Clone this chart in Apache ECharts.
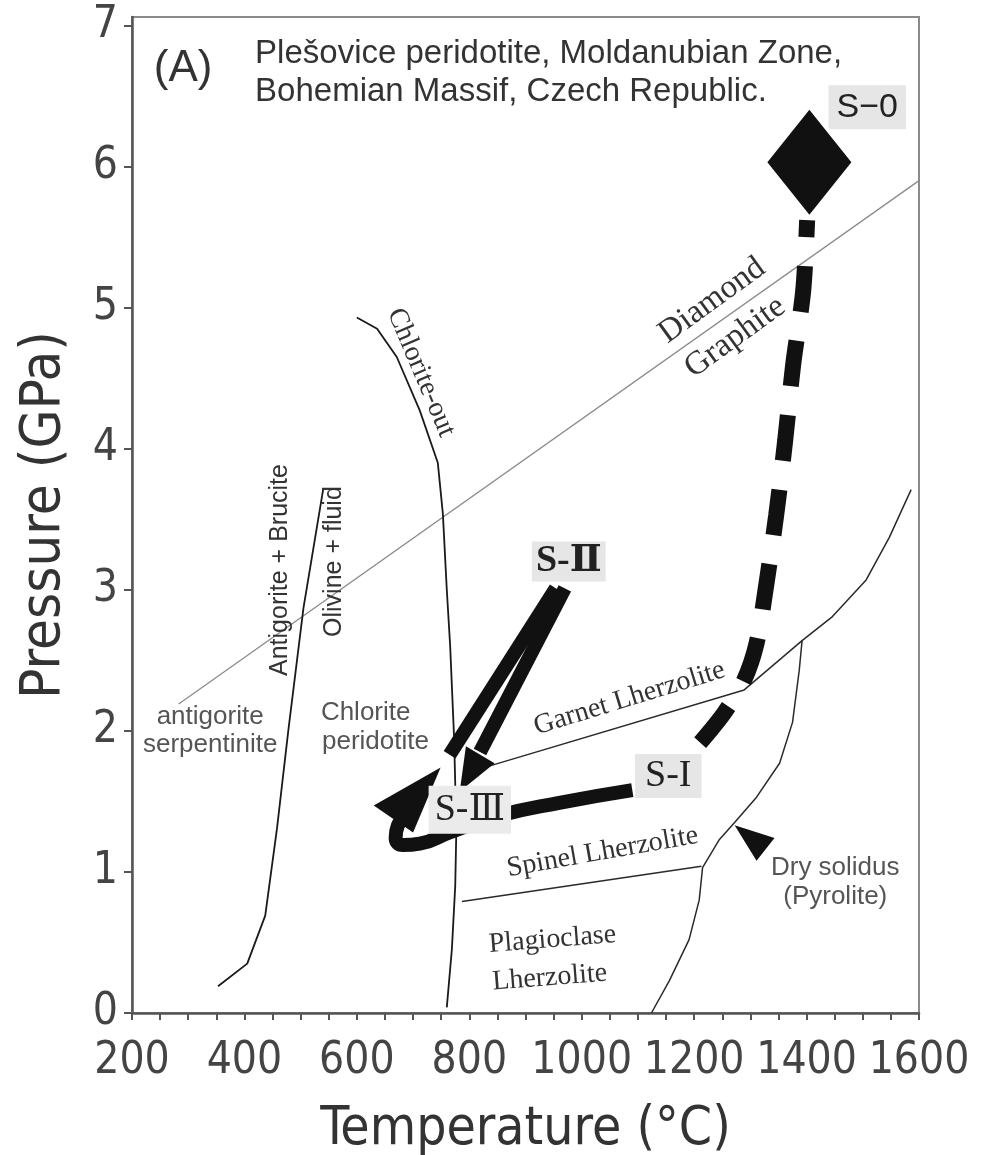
<!DOCTYPE html>
<html>
<head>
<meta charset="utf-8">
<title>Plešovice peridotite P-T path</title>
<script src="https://cdn.jsdelivr.net/npm/echarts@6/dist/echarts.min.js"></script>
<style>
html, body { margin: 0; padding: 0; background: #fff; }
#chart { width: 981px; height: 1155px; }
</style>
</head>
<body>
<div id="chart"></div>
<script>
// ---- axes ----
var xTickValues = [200, 250, 300, 350, 400, 450, 500, 550, 600, 650, 700, 750, 800, 850, 900,
    950, 1000, 1050, 1100, 1150, 1200, 1250, 1300, 1350, 1400, 1450, 1500, 1550, 1600];
var xLabelValues = [200, 400, 600, 800, 1000, 1200, 1400, 1600];
var yTickValues = [0, 1, 2, 3, 4, 5, 6, 7];

// ---- phase boundaries [T (°C), P (GPa)] ----
var diamondGraphite = [[283, 2.19], [1600, 5.90]];
var antigoriteOut = [[353, 0.19], [405, 0.35], [437, 0.69], [458, 1.31], [478, 2.00], [505, 2.87], [540, 3.71]];
var chloriteOut = [[600, 4.93], [636, 4.85], [671, 4.65], [712, 4.27], [744, 3.90], [753, 3.54], [760, 3.00],
    [766, 2.60], [773, 1.95], [777, 1.30], [775, 0.90], [769, 0.45], [760, 0.04]];
var garnetSpinel = [[835, 1.75], [1289, 2.29], [1392, 2.64], [1446, 2.81], [1506, 3.07], [1547, 3.37], [1586, 3.71]];
var spinelPlag = [[787, 0.79], [1213, 1.04]];
var drySolidus = [[1124, 0.00], [1156, 0.23], [1191, 0.52], [1209, 0.80], [1215, 1.03], [1245, 1.23], [1272, 1.35],
    [1311, 1.53], [1352, 1.77], [1375, 2.06], [1387, 2.43], [1392, 2.64]];

// ---- P-T path ----
var peakS0 = [[1405, 6.03]];
var pathS0toSI = [[1401, 5.62], [1394, 5.12], [1376, 4.59], [1362, 4.06], [1346, 3.53], [1327, 3.00], [1311, 2.62],
    [1289, 2.36], [1254, 2.13], [1218, 1.95], [1195, 1.85]];
var pathSItoSIII = [[1090, 1.58], [960, 1.49], [854, 1.40], [765, 1.28], [712, 1.20], [682, 1.19], [669, 1.24],
    [673, 1.33], [685, 1.38]];
var pathSIIa = [[954, 3.01], [765, 1.83]];
var pathSIIb = [[970, 3.01], [819, 1.85]];
var arrowHeads = [
    [[630, 1.47], [749, 1.74], [700, 1.28]],
    [[783, 1.57], [794, 1.89], [845, 1.77]],
    [[1272, 1.33], [1343, 1.24], [1311, 1.08]]
];

// ---- text placed in the diagram ----
var SANS = "'Liberation Sans', Arial, sans-serif";
var SERIF = "'Liberation Serif', 'DejaVu Serif', serif";
var NARROW = "'Liberation Sans Narrow', 'DejaVu Sans Condensed', 'Liberation Sans', sans-serif";
var labelKinds = {
    panel: { font: '44px ' + SANS, color: '#333' },
    title: { font: '33px ' + SANS, color: '#333' },
    field: { font: '26px ' + SANS, color: '#555' },
    reaction: { font: '25px ' + SANS, color: '#333' },
    phase: { font: '28px ' + SERIF, color: '#333' },
    big: { font: '33px ' + SERIF, color: '#333' },
    s0: { font: '34px ' + SANS, color: '#222', bg: '#e6e6e6', pad: [6, 8, 4, 8] },
    s2: { font: 'bold 38px ' + SERIF, color: '#222', bg: '#e6e6e6', pad: [2, 4, 0, 4] },
    s1: { font: '38px ' + SERIF, color: '#222', bg: '#e6e6e6', pad: [4, 10, 2, 10] },
    s3: { font: '38px ' + SERIF, color: '#222', bg: '#ebebeb', pad: [6, 6, 4, 6] }
};
var annotations = [
    { t: 291, p: 6.69, text: '(A)', kind: 'panel' },
    { t: 419, p: 6.80, text: 'Plešovice peridotite, Moldanubian Zone,', kind: 'title', align: 'left' },
    { t: 419, p: 6.53, text: 'Bohemian Massif, Czech Republic.', kind: 'title', align: 'left' },
    { t: 1508, p: 6.42, text: 'S\u22120', kind: 's0' },
    { t: 977, p: 3.20, text: 'S-\u2161', kind: 's2' },
    { t: 1154, p: 1.68, text: 'S-I', kind: 's1' },
    { t: 801, p: 1.44, text: 'S-\u2162', kind: 's3' },
    { t: 1232, p: 5.05, text: 'Diamond', kind: 'big', rot: 36 },
    { t: 1273, p: 4.79, text: 'Graphite', kind: 'big', rot: 36 },
    { t: 714, p: 4.54, text: 'Chlorite-out', kind: 'phase', rot: -67 },
    { t: 464, p: 3.14, text: 'Antigorite + Brucite', kind: 'reaction', rot: 90 },
    { t: 560, p: 3.20, text: 'Olivine + fluid', kind: 'reaction', rot: 90 },
    { t: 339, p: 2.10, text: 'antigorite', kind: 'field' },
    { t: 339, p: 1.90, text: 'serpentinite', kind: 'field' },
    { t: 536, p: 2.13, text: 'Chlorite', kind: 'field', align: 'left' },
    { t: 538, p: 1.92, text: 'peridotite', kind: 'field', align: 'left' },
    { t: 1085, p: 2.23, text: 'Garnet Lherzolite', kind: 'phase', rot: 17 },
    { t: 1037, p: 1.14, text: 'Spinel Lherzolite', kind: 'phase', rot: 10 },
    { t: 948, p: 0.52, text: 'Plagioclase', kind: 'phase', rot: 4.5 },
    { t: 943, p: 0.25, text: 'Lherzolite', kind: 'phase', rot: 4.5 },
    { t: 1451, p: 1.03, text: 'Dry solidus', kind: 'field' },
    { t: 1451, p: 0.82, text: '(Pyrolite)', kind: 'field' }
];

function thinLine(data, color, width) {
    return {
        type: 'line', data: data, showSymbol: false, smooth: false, silent: true, z: 2,
        lineStyle: { color: color, width: width }
    };
}

function plainNumber(v) {
    return String(v);
}

var chart = echarts.init(document.getElementById('chart'));
var option = {
    animation: false,
    backgroundColor: '#fff',
    grid: {
        left: 132, right: 62, top: 17, bottom: 142,
        containLabel: false, outerBoundsMode: 'none',
        show: true, borderColor: '#8a8a8a', borderWidth: 2, backgroundColor: 'transparent'
    },
    xAxis: {
        type: 'value', min: 200, max: 1600,
        name: 'Temperature (\u00b0C)', nameLocation: 'middle', nameGap: 91,
        nameTextStyle: { fontFamily: NARROW, fontSize: 53, color: '#333' },
        splitLine: { show: false },
        axisLine: { show: true, onZero: false, lineStyle: { color: '#555', width: 2.5 } },
        axisTick: { show: true, inside: false, length: 7, customValues: xTickValues, lineStyle: { color: '#555', width: 2 } },
        axisLabel: {
            customValues: xLabelValues, margin: 27, hideOverlap: false, formatter: plainNumber,
            fontFamily: NARROW, fontSize: 44, color: '#444'
        }
    },
    yAxis: {
        type: 'value', min: 0, max: 7.06,
        name: 'Pressure (GPa)', nameLocation: 'middle', nameGap: 60,
        nameTextStyle: { fontFamily: NARROW, fontSize: 56, color: '#333' },
        splitLine: { show: false },
        axisLine: { show: true, onZero: false, lineStyle: { color: '#555', width: 2.5 } },
        axisTick: { show: true, inside: false, length: 8, customValues: yTickValues, lineStyle: { color: '#555', width: 2 } },
        axisLabel: {
            customValues: yTickValues, margin: 14, formatter: plainNumber,
            fontFamily: NARROW, fontSize: 44, color: '#444'
        }
    },
    series: [
        thinLine(diamondGraphite, '#8c8c8c', 1.3),
        thinLine(antigoriteOut, '#1a1a1a', 1.8),
        thinLine(chloriteOut, '#1a1a1a', 1.8),
        thinLine(garnetSpinel, '#2a2a2a', 1.5),
        thinLine(spinelPlag, '#2a2a2a', 1.5),
        thinLine(drySolidus, '#2a2a2a', 1.5),
        {
            type: 'line', data: pathS0toSI, showSymbol: false, smooth: 0.3, silent: true, z: 4,
            lineStyle: { color: '#111', width: 16, type: [46, 29], dashOffset: 29, cap: 'butt' }
        },
        {
            type: 'line', data: pathSItoSIII, showSymbol: false, smooth: 0.5, silent: true, z: 4,
            lineStyle: { color: '#111', width: 14, cap: 'butt', join: 'round' }
        },
        {
            type: 'line', data: pathSIIa, showSymbol: false, silent: true, z: 4,
            lineStyle: { color: '#111', width: 14, cap: 'butt' }
        },
        {
            type: 'line', data: pathSIIb, showSymbol: false, silent: true, z: 4,
            lineStyle: { color: '#111', width: 14, cap: 'butt' }
        },
        {
            type: 'scatter', data: peakS0, symbol: 'diamond', symbolSize: [84, 105], silent: true, z: 5,
            itemStyle: { color: '#111', opacity: 1 }
        },
        {
            type: 'custom', silent: true, z: 5, clip: false,
            data: arrowHeads.map(function (a) { return a[0]; }),
            renderItem: function (params, api) {
                var pts = arrowHeads[params.dataIndex].map(function (v) { return api.coord(v); });
                return { type: 'polygon', shape: { points: pts }, style: { fill: '#111' } };
            }
        },
        {
            type: 'custom', silent: true, z: 6, clip: false,
            data: annotations.map(function (a) { return [a.t, a.p]; }),
            renderItem: function (params, api) {
                var a = annotations[params.dataIndex];
                var k = labelKinds[a.kind];
                var pt = api.coord([a.t, a.p]);
                var style = {
                    text: a.text, font: k.font, fill: k.color,
                    align: a.align || 'center', verticalAlign: 'middle'
                };
                if (k.bg) {
                    style.backgroundColor = k.bg;
                    style.padding = k.pad;
                }
                return {
                    type: 'text', x: pt[0], y: pt[1],
                    rotation: (a.rot || 0) * Math.PI / 180,
                    style: style
                };
            }
        }
    ]
};
chart.setOption(option);
</script>
</body>
</html>
